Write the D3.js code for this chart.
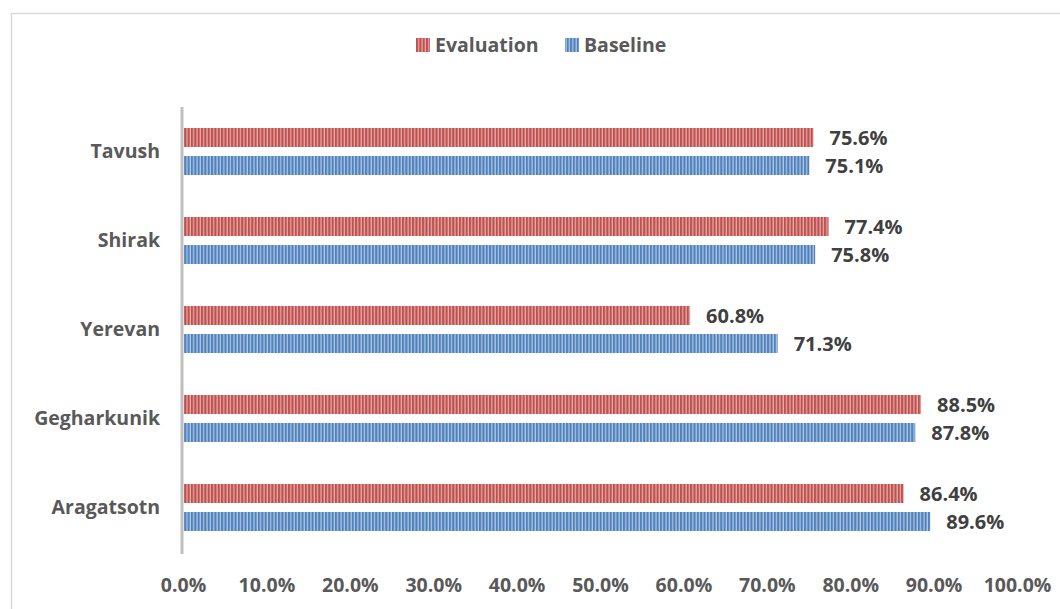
<!DOCTYPE html>
<html>
<head>
<meta charset="utf-8">
<script src="https://cdn.jsdelivr.net/npm/d3@7"></script>
<style>
  html, body { margin: 0; padding: 0; background: #fff; }
  svg { display: block; }
</style>
</head>
<body>
<svg id="chart" width="1060" height="609"></svg>
<script>
// Regions listed top to bottom as they appear on the chart
const regions = ["Tavush", "Shirak", "Yerevan", "Gegharkunik", "Aragatsotn"];
const evaluation = [75.6, 77.4, 60.8, 88.5, 86.4];
const baseline = [75.1, 75.8, 71.3, 87.8, 89.6];
const seriesNames = ["Evaluation", "Baseline"];
const xTicks = [0, 10, 20, 30, 40, 50, 60, 70, 80, 90, 100];

const svg = d3.select("#chart");
const font = "'Open Sans', Lato, 'Liberation Sans', sans-serif";
const fontSize = 19.5;

// Outer chart frame
svg.append("rect")
  .attr("x", 11.5).attr("y", 13.5)
  .attr("width", 1100).attr("height", 700)
  .attr("fill", "#fff").attr("stroke", "#d9d9d9").attr("stroke-width", 1.5);

// Striped fills
const defs = svg.append("defs");
function stripes(id, dark, light) {
  const p = defs.append("pattern")
    .attr("id", id).attr("patternUnits", "userSpaceOnUse")
    .attr("x", 0).attr("y", 0).attr("width", 3.35).attr("height", 10);
  p.append("rect").attr("width", 3.35).attr("height", 10).attr("fill", light);
  p.append("rect").attr("width", 2.1).attr("height", 10).attr("fill", dark);
}
stripes("evalStripes", "#c0504d", "#e3aeac");
stripes("baseStripes", "#4f81bd", "#b2c8e3");

const x = d3.scaleLinear().domain([0, 100]).range([183, 1017]);
const y = d3.scaleBand().domain(regions).range([107, 552]);

const rows = regions.map((r, i) => ({ region: r, evaluation: evaluation[i], baseline: baseline[i] }));
const barH = 19, gap = 9;
const offsets = { evaluation: -gap / 2 - barH, baseline: gap / 2 };
const fills = { evaluation: "url(#evalStripes)", baseline: "url(#baseStripes)" };

["evaluation", "baseline"].forEach(key => {
  const g = svg.append("g");
  g.selectAll("rect").data(rows).join("rect")
    .attr("x", x(0) + 1)
    .attr("y", d => y(d.region) + y.bandwidth() / 2 + offsets[key])
    .attr("width", d => x(d[key]) - x(0) - 1)
    .attr("height", barH)
    .attr("fill", fills[key]);
  g.selectAll("text").data(rows).join("text")
    .attr("x", d => x(d[key]) + 16)
    .attr("y", d => y(d.region) + y.bandwidth() / 2 + offsets[key] + barH / 2)
    .attr("dy", "0.36em")
    .attr("font-family", font).attr("font-weight", "bold").attr("font-size", 20)
    .attr("fill", "#404040")
    .text(d => d[key].toFixed(1) + "%");
});

// Category axis
const yAxis = svg.append("g").attr("transform", `translate(${x(0) - 1},0)`)
  .call(d3.axisLeft(y).tickSize(0).tickPadding(22));
yAxis.select(".domain").attr("stroke", "#bfbfbf").attr("stroke-width", 3)
  .attr("d", `M0,${y.range()[0]}V${y.range()[1] + 2}`);
yAxis.selectAll("text")
  .attr("font-family", font).attr("font-weight", "bold").attr("font-size", fontSize)
  .attr("fill", "#595959");

// Value axis (labels only)
const xAxis = svg.append("g").attr("transform", "translate(0,578)")
  .call(d3.axisBottom(x).tickValues(xTicks).tickSize(0).tickPadding(0)
    .tickFormat(d => d.toFixed(1) + "%"));
xAxis.select(".domain").remove();
xAxis.selectAll("text")
  .attr("font-family", font).attr("font-weight", "bold").attr("font-size", fontSize)
  .attr("fill", "#595959");

// Legend
const legend = svg.append("g").attr("transform", "translate(416,45)");
const items = [
  { name: seriesNames[0], fill: "url(#evalStripes)", x: 0 },
  { name: seriesNames[1], fill: "url(#baseStripes)", x: 149 }
];
items.forEach(it => {
  legend.append("rect").attr("x", it.x).attr("y", -7).attr("width", 14).attr("height", 14)
    .attr("fill", it.fill);
  legend.append("text").attr("x", it.x + 19).attr("y", 0).attr("dy", "0.36em")
    .attr("font-family", font).attr("font-weight", "bold").attr("font-size", fontSize)
    .attr("fill", "#595959").text(it.name);
});
</script>
</body>
</html>
